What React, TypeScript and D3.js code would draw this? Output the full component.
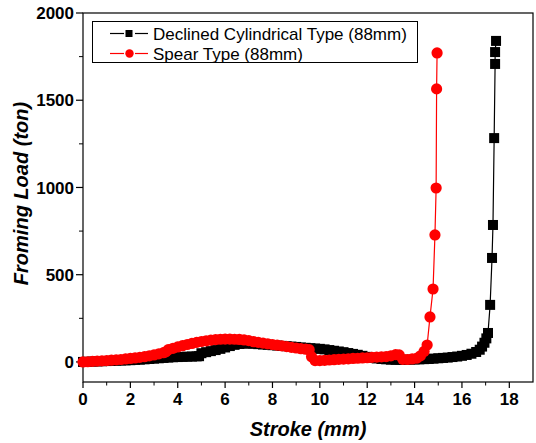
import React from 'react';
import * as d3 from 'd3';

const width = 536;
const height = 443;
const margin = { top: 13, right: 3, bottom: 61, left: 83 };

// Declined Cylindrical Type (88mm)
const strokeDeclined = [
  0, 0.2, 0.4, 0.6, 0.8, 1.0, 1.2, 1.4, 1.6, 1.8, 2.0, 2.2, 2.4, 2.6, 2.8, 3.0, 3.2, 3.4, 3.6, 3.8,
  4.0, 4.2, 4.4, 4.6, 4.8, 4.9, 5.0, 5.2, 5.4, 5.6, 5.8, 6.0, 6.2, 6.4, 6.6, 6.8, 7.0, 7.2, 7.4, 7.6,
  7.8, 8.0, 8.2, 8.4, 8.6, 8.8, 9.0, 9.2, 9.4, 9.6, 9.8, 10.0, 10.2, 10.4, 10.6, 10.8, 11.0, 11.2, 11.4,
  11.6, 11.8, 12.0, 12.2, 12.4, 12.6, 12.8, 13.0, 13.2, 13.4, 13.6, 13.8, 14.0, 14.2, 14.4, 14.6, 14.8,
  15.0, 15.2, 15.4, 15.6, 15.8, 16.0, 16.2, 16.4, 16.6, 16.75, 16.85, 16.95, 17.03, 17.1, 17.19, 17.27,
  17.31, 17.36, 17.4, 17.4, 17.44,
];
const loadDeclined = [
  0, 1, 2, 3, 4, 5, 6, 7, 8, 9, 10, 12, 13, 15, 17, 19, 21, 23, 25, 27,
  28, 29, 30, 31, 32, 33, 50, 56, 62, 68, 75, 83, 91, 98, 103, 105, 106, 104, 102, 100,
  98, 96, 94, 92, 90, 88, 86, 83, 81, 79, 77, 75, 72, 68, 64, 60, 56, 51, 46,
  41, 35, 29, 24, 20, 17, 15, 13, 12, 12, 12, 13, 14, 15, 16, 17, 19,
  21, 23, 25, 28, 31, 35, 40, 47, 57, 70, 88, 110, 135, 166, 327, 596,
  785, 1283, 1708, 1776, 1840,
];

// Spear Type (88mm)
const strokeSpear = [
  0, 0.2, 0.4, 0.6, 0.8, 1.0, 1.2, 1.4, 1.6, 1.8, 2.0, 2.2, 2.4, 2.6, 2.8, 3.0, 3.2, 3.4, 3.5, 3.6,
  3.8, 4.0, 4.2, 4.4, 4.6, 4.8, 5.0, 5.2, 5.4, 5.6, 5.8, 6.0, 6.2, 6.4, 6.6, 6.8, 7.0, 7.2, 7.4, 7.6,
  7.8, 8.0, 8.2, 8.4, 8.6, 8.8, 9.0, 9.2, 9.4, 9.55, 9.65, 9.8, 10.0, 10.2, 10.4, 10.6, 10.8, 11.0,
  11.2, 11.4, 11.6, 11.8, 12.0, 12.2, 12.4, 12.6, 12.8, 13.0, 13.2, 13.35, 13.5, 13.7, 13.9, 14.1,
  14.25, 14.4, 14.53, 14.65, 14.78, 14.86, 14.91, 14.93, 14.95,
];
const loadSpear = [
  0, 1, 3, 5, 6, 8, 10, 12, 14, 17, 20, 23, 26, 30, 35, 40, 46, 53, 58, 70,
  78, 86, 93, 100, 106, 112, 117, 121, 125, 128, 130, 131, 131, 130, 129, 126, 122, 116, 112, 108,
  104, 100, 96, 92, 88, 84, 80, 76, 73, 70, 30, 8, 8, 9, 11, 13, 15, 16,
  18, 20, 21, 23, 24, 26, 28, 29, 31, 35, 42, 40, 15, 14, 17, 22,
  35, 60, 97, 258, 418, 728, 997, 1565, 1771,
];

const xTicks = [0, 2, 4, 6, 8, 10, 12, 14, 16, 18];
const yTicks = [0, 500, 1000, 1500, 2000];

const series = [
  { name: 'Declined Cylindrical Type (88mm)', color: '#000000', shape: 'square', xs: strokeDeclined, ys: loadDeclined },
  { name: 'Spear Type (88mm)', color: '#ff0000', shape: 'circle', xs: strokeSpear, ys: loadSpear },
];

const font = '"Liberation Sans", Arial, sans-serif';

const App = () => {
  const innerWidth = width - margin.left - margin.right;
  const innerHeight = height - margin.top - margin.bottom;

  const xScale = d3.scaleLinear().domain([0, 19]).range([0, innerWidth]);
  const yScale = d3.scaleLinear().domain([-115, 2000]).range([innerHeight, 0]);

  const line = d3.line<[number, number]>()
    .x(d => xScale(d[0]))
    .y(d => yScale(d[1]));

  const xMinor = d3.range(1, 19, 2);
  const yMinor = [250, 750, 1250, 1750];

  return (
    <svg width={width} height={height} style={{ position: 'absolute', left: 0, top: 0, background: '#fff' }}>
      <g transform={`translate(${margin.left},${margin.top})`}>
        {/* frame */}
        <rect x={0} y={0} width={innerWidth} height={innerHeight} fill="none" stroke="#000" strokeWidth={1.2} />

        {/* x ticks */}
        {xTicks.map(t => (
          <g key={'x' + t} transform={`translate(${xScale(t)},${innerHeight})`}>
            <line y2={6} stroke="#000" strokeWidth={1.2} />
            <text y={23} textAnchor="middle" fontFamily={font} fontWeight="bold" fontSize={17}>{t}</text>
          </g>
        ))}
        {xMinor.map(t => (
          <line key={'xm' + t} x1={xScale(t)} x2={xScale(t)} y1={innerHeight} y2={innerHeight + 3.5} stroke="#000" />
        ))}

        {/* y ticks */}
        {yTicks.map(t => (
          <g key={'y' + t} transform={`translate(0,${yScale(t)})`}>
            <line x2={-7} stroke="#000" strokeWidth={1.2} />
            <text x={-9} dy="0.36em" textAnchor="end" fontFamily={font} fontWeight="bold" fontSize={17}>{t}</text>
          </g>
        ))}
        {yMinor.map(t => (
          <line key={'ym' + t} x1={0} x2={-4} y1={yScale(t)} y2={yScale(t)} stroke="#000" />
        ))}

        {/* series */}
        {series.map(s => {
          const pts: [number, number][] = s.xs.map((x, i) => [x, s.ys[i]]);
          return (
            <g key={s.name}>
              <path d={line(pts) || ''} fill="none" stroke={s.color} strokeWidth={1.2} />
              {pts.map((p, i) =>
                s.shape === 'square' ? (
                  <rect key={i} x={xScale(p[0]) - 5} y={yScale(p[1]) - 5} width={10} height={10} fill={s.color} />
                ) : (
                  <circle key={i} cx={xScale(p[0])} cy={yScale(p[1])} r={5.6} fill={s.color} />
                )
              )}
            </g>
          );
        })}
      </g>

      {/* legend */}
      <rect x={92.5} y={21.5} width={325} height={41} fill="#fff" stroke="#000" strokeWidth={1} />
      {series.map((s, i) => {
        const cy = 33.5 + i * 20;
        return (
          <g key={'lg' + s.name}>
            <line x1={110} x2={124} y1={cy} y2={cy} stroke={s.color} strokeWidth={1.2} />
            <line x1={135} x2={148} y1={cy} y2={cy} stroke={s.color} strokeWidth={1.2} />
            {s.shape === 'square' ? (
              <rect x={125.5} y={cy - 3.5} width={7} height={7} fill={s.color} />
            ) : (
              <circle cx={129.5} cy={cy} r={4.2} fill={s.color} />
            )}
            <text x={153} y={cy + 6} fontFamily={font} fontSize={17}>{s.name}</text>
          </g>
        );
      })}

      {/* axis titles */}
      <text x={margin.left + innerWidth / 2} y={436} textAnchor="middle" fontFamily={font} fontWeight="bold" fontStyle="italic" fontSize={20}>
        Stroke (mm)
      </text>
      <text
        transform={`translate(28,${margin.top + innerHeight / 2 - 4}) rotate(-90)`}
        textAnchor="middle"
        fontFamily={font}
        fontWeight="bold"
        fontStyle="italic"
        fontSize={20}
      >
        Froming Load (ton)
      </text>
    </svg>
  );
};

export default App;
